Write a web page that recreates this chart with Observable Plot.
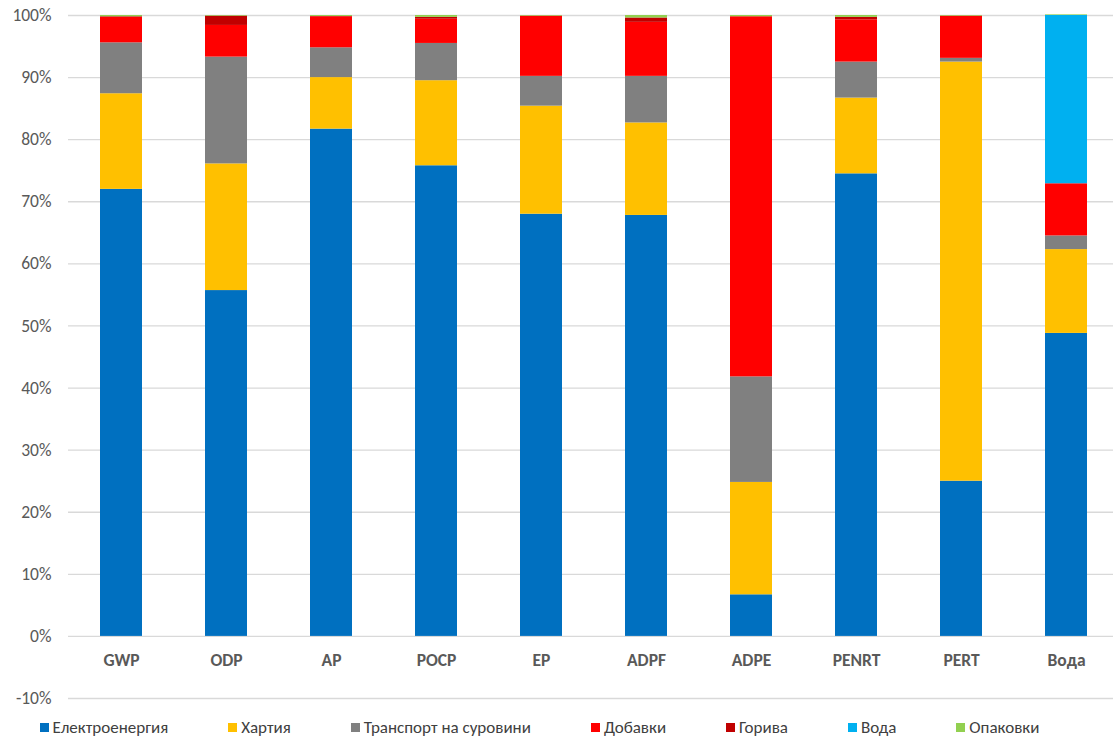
<!DOCTYPE html>
<html>
<head>
<meta charset="utf-8">
<script src="https://cdn.jsdelivr.net/npm/d3@7"></script>
<script src="https://cdn.jsdelivr.net/npm/@observablehq/plot@0.6"></script>
<style>
  html, body { margin: 0; padding: 0; background: #fff; }
  body { width: 1113px; height: 738px; overflow: hidden; font-family: Carlito, Lato, "Open Sans", sans-serif; }
  #legend { display: flex; justify-content: center; align-items: center; gap: 60px; margin-top: 7px; font-size: 17px; color: #404040; padding-right: 34px; }
  #legend .item { display: flex; align-items: center; white-space: nowrap; }
  #legend .sw { width: 9px; height: 9px; margin-right: 4px; display: inline-block; }
</style>
</head>
<body>
<div id="chart"></div>
<div id="legend"></div>
<script>
const categories = ["GWP", "ODP", "AP", "POCP", "EP", "ADPF", "ADPE", "PENRT", "PERT", "Вода"];
const seriesNames = ["Електроенергия", "Хартия", "Транспорт на суровини", "Добавки", "Горива", "Вода", "Опаковки"];
const seriesColors = ["#0070C0", "#FFC000", "#808080", "#FF0000", "#C00000", "#00B0F0", "#92D050"];

// percent shares per category
const electricity = [72.0, 55.7, 81.7, 75.8, 68.0, 67.8, 6.7, 74.5, 25.0, 48.8];
const paper       = [15.4, 20.4, 8.3, 13.7, 17.4, 14.9, 18.1, 12.2, 67.5, 13.5];
const transport   = [8.2, 17.2, 4.8, 6.0, 4.8, 7.5, 17.0, 5.8, 0.6, 2.2];
const additives   = [4.1, 5.1, 5.0, 3.9, 9.7, 8.7, 58.0, 6.8, 6.8, 8.4];
const fuels       = [0.1, 1.5, 0.05, 0.3, 0.0, 0.7, 0.0, 0.4, 0.0, 0.0];
const water       = [0, 0, 0, 0, 0, 0, 0, 0, 0, 27.1];
const packaging   = [0.2, 0.1, 0.15, 0.3, 0.1, 0.4, 0.2, 0.3, 0.1, 0.1];

const yTicks = [-10, 0, 10, 20, 30, 40, 50, 60, 70, 80, 90, 100];

const seriesValues = [electricity, paper, transport, additives, fuels, water, packaging];
const rows = [];
seriesNames.forEach((s, si) => {
  categories.forEach((c, ci) => {
    rows.push({category: c, series: s, value: seriesValues[si][ci]});
  });
});

const chart = Plot.plot({
  width: 1113,
  height: 710,
  marginTop: 15,
  marginBottom: 12,
  marginLeft: 68,
  marginRight: -5,
  style: {fontFamily: "Carlito, Lato, 'Open Sans', sans-serif", background: "#fff"},
  x: {domain: categories, paddingInner: 0.6, paddingOuter: 0.3, label: null},
  y: {domain: [-10, 100], label: null},
  color: {domain: seriesNames, range: seriesColors},
  marks: [
    Plot.gridY(yTicks, {stroke: "#d9d9d9", strokeOpacity: 1, strokeWidth: 1.3}),
    Plot.axisY(yTicks, {tickSize: 0, tickPadding: 17, tickFormat: d => d + "%", fontSize: 17.5, fill: "#595959", label: null}),
    Plot.axisX({anchor: "bottom", tickSize: 0, tickPadding: 0, dy: -45, fontSize: 17.5, fontWeight: "bold", fill: "#595959", label: null}),
    Plot.barY(rows, {x: "category", y: "value", fill: "series", order: seriesNames})
  ]
});
document.getElementById("chart").appendChild(chart);

const legend = document.getElementById("legend");
seriesNames.forEach((s, i) => {
  const item = document.createElement("div");
  item.className = "item";
  const sw = document.createElement("span");
  sw.className = "sw";
  sw.style.background = seriesColors[i];
  item.appendChild(sw);
  item.appendChild(document.createTextNode(s));
  legend.appendChild(item);
});
</script>
</body>
</html>
